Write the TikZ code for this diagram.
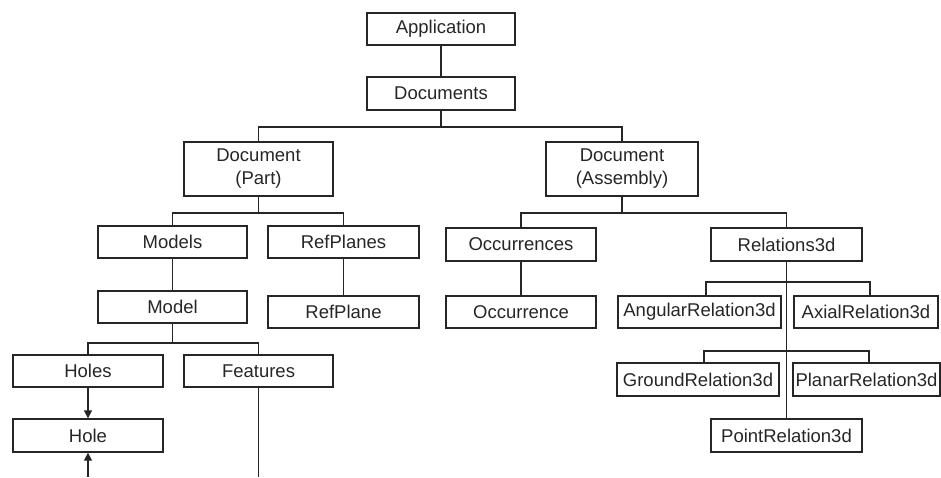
\documentclass[tikz,border=0pt]{standalone}
\usepackage{fontspec}
\setmainfont{Liberation Sans}
\usetikzlibrary{arrows.meta}
\begin{document}
\begin{tikzpicture}[x=1pt,y=-1pt,
  box/.style={draw=black!85, line width=1.3pt, inner sep=0pt, text=black!85,
    font=\fontsize{18.5}{23}\selectfont, align=center},
  conn/.style={draw=black!85, line width=1.3pt},
  arr/.style={conn, -{Triangle[length=8pt,width=8pt]}}]
\useasboundingbox (0,0) rectangle (941,477);
% nodes
\node[box, minimum width=148pt, minimum height=32pt] (app) at (441,29) {Application};
\node[box, minimum width=148pt, minimum height=33pt] (docs) at (441,93.5) {Documents};
\node[box, minimum width=149pt, minimum height=54pt] (part) at (258.5,169) {Document\\(Part)};
\node[box, minimum width=152pt, minimum height=54pt] (asm) at (622,169) {Document\\(Assembly)};
\node[box, minimum width=149pt, minimum height=32pt] (models) at (172.5,242) {Models};
\node[box, minimum width=151pt, minimum height=32pt] (refplanes) at (343.5,242) {RefPlanes};
\node[box, minimum width=150pt, minimum height=33pt] (occs) at (521,244.5) {Occurrences};
\node[box, minimum width=151pt, minimum height=33pt] (rel) at (786.5,244.5) {Relations3d};
\node[box, minimum width=149pt, minimum height=32pt] (model) at (172.5,307) {Model};
\node[box, minimum width=151pt, minimum height=32pt] (refplane) at (343.5,312) {RefPlane};
\node[box, minimum width=150pt, minimum height=32pt] (occ) at (521,312) {Occurrence};
\node[box, minimum width=150pt, minimum height=32pt] (holes) at (88,371) {Holes};
\node[box, minimum width=149pt, minimum height=32pt] (features) at (258.5,371) {Features};
\node[box, minimum width=150pt, minimum height=33pt] (hole) at (88,435.5) {Hole};
\node[box, minimum width=163pt, minimum height=32pt] (ang) at (699.5,312) {AngularRelation3d};
\node[box, minimum width=144pt, minimum height=32pt] (axial) at (866,312) {AxialRelation3d};
\node[box, minimum width=162pt, minimum height=33pt] (ground) at (698,379.5) {GroundRelation3d};
\node[box, minimum width=147pt, minimum height=33pt] (planar) at (866.5,379.5) {PlanarRelation3d};
\node[box, minimum width=151pt, minimum height=33pt] (point) at (786.5,435.5) {PointRelation3d};
% bus coordinates
\coordinate (b1) at (441,127);
\coordinate (b2) at (258.5,213);
\coordinate (b3) at (622,213);
\coordinate (b4) at (172.5,343);
\coordinate (angc) at (706,282);
\coordinate (axc) at (870,282);
\coordinate (grc) at (704,351);
\coordinate (plc) at (869,351);
\coordinate (fend) at (258.5,477);
\coordinate (hend) at (88,477);
% connectors
\draw[conn] (app) -- (docs);
\draw[conn] (docs.south) -- (b1);
\draw[conn] (part.north) |- (b1) -| (asm.north);
\draw[conn] (part.south) -- (b2);
\draw[conn] (models.north) |- (b2) -| (refplanes.north);
\draw[conn] (asm.south) -- (b3);
\draw[conn] (occs.north) |- (b3) -| (rel.north);
\draw[conn] (models) -- (model);
\draw[conn] (refplanes) -- (refplane);
\draw[conn] (occs) -- (occ);
\draw[conn] (model.south) -- (b4);
\draw[conn] (holes.north) |- (b4) -| (features.north);
\draw[arr] (holes.south) -- (hole.north);
\draw[arr] (hend) -- (hole.south);
\draw[conn] (features.south) -- (fend);
\draw[conn] (rel.south) -- (point.north);
\draw[conn] (angc |- ang.north) -- (angc) -- (axc) -- (axc |- axial.north);
\draw[conn] (grc |- ground.north) -- (grc) -- (plc) -- (plc |- planar.north);
\end{tikzpicture}
\end{document}
